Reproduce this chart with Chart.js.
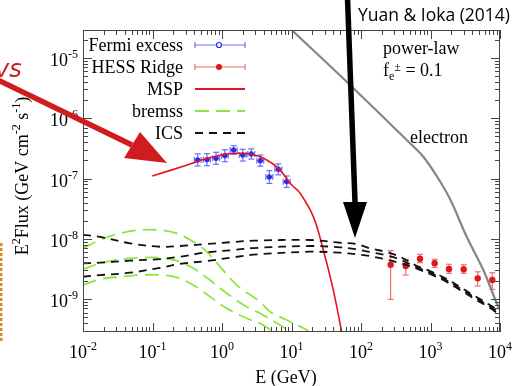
<!DOCTYPE html>
<html>
<head>
<meta charset="utf-8">
<script src="https://cdn.jsdelivr.net/npm/chart.js@4"></script>
<style>
  html, body { margin: 0; background: #fff; }
</style>
</head>
<body>
<canvas id="chart" width="514" height="386"></canvas>
<script>
// Fermi excess (GeV, GeV cm^-2 s^-1)
const fermiE   = [0.447, 0.608, 0.820, 1.10, 1.47, 1.99, 2.64, 3.56, 4.80, 6.46, 8.53];
const fermiELo = [0.40, 0.54, 0.73, 0.98, 1.31, 1.77, 2.35, 3.17, 4.28, 5.76, 7.60];
const fermiEHi = [0.50, 0.68, 0.92, 1.23, 1.65, 2.23, 2.96, 3.99, 5.38, 7.25, 9.57];
const fermiF   = [2.03e-7, 2.05e-7, 2.16e-7, 2.39e-7, 2.97e-7, 2.45e-7, 2.55e-7, 1.97e-7, 1.06e-7, 1.42e-7, 8.85e-8];
const fermiFLo = [1.61e-7, 1.63e-7, 1.72e-7, 1.90e-7, 2.52e-7, 1.95e-7, 2.10e-7, 1.60e-7, 8.3e-8, 1.15e-7, 7.1e-8];
const fermiFHi = [2.56e-7, 2.58e-7, 2.72e-7, 3.00e-7, 3.50e-7, 3.05e-7, 3.10e-7, 2.45e-7, 1.35e-7, 1.75e-7, 1.10e-7];

// HESS ridge
const hessE   = [267, 440, 706, 1148, 1845, 3003, 4776, 7745];
const hessF   = [3.72e-9, 3.54e-9, 4.68e-9, 3.93e-9, 3.16e-9, 3.12e-9, 2.21e-9, 2.07e-9];
const hessFLo = [9.9e-10, 2.51e-9, 4.02e-9, 3.36e-9, 2.68e-9, 2.68e-9, 1.65e-9, 1.45e-9];
const hessFHi = [6.37e-9, 4.57e-9, 5.53e-9, 4.57e-9, 3.78e-9, 3.72e-9, 2.84e-9, 2.74e-9];

// MSP model
const mspE = [0.0993, 0.294, 0.569, 1.10, 1.72, 2.67, 4.16, 6.46, 10.1, 13.3, 20.6, 28.7, 39.9, 52.7];
const mspF = [1.10e-7, 1.63e-7, 2.10e-7, 2.52e-7, 2.62e-7, 2.52e-7, 2.10e-7, 1.47e-7, 7.8e-8, 5.69e-8, 2.33e-8, 6.52e-9, 1.42e-9, 2.88e-10];

// bremsstrahlung, three curves
const brHiE  = [0.01, 0.0176, 0.034, 0.066, 0.128, 0.223, 0.386, 0.602, 0.936, 1.63, 3.52, 4.91, 8.53, 16.6, 18];
const brHiF  = [6.95e-9, 9.55e-9, 1.23e-8, 1.40e-8, 1.40e-8, 1.23e-8, 8.95e-9, 6.11e-9, 3.45e-9, 1.71e-9, 9.06e-10, 6.18e-10, 4.5e-10, 3.07e-10, 2.8e-10];
const brMidE = [0.01, 0.0176, 0.034, 0.066, 0.128, 0.223, 0.386, 0.670, 1.17, 2.25, 3.52, 9.5];
const brMidF = [3.12e-9, 3.93e-9, 4.57e-9, 4.86e-9, 4.86e-9, 4.34e-9, 3.24e-9, 2.07e-9, 1.25e-9, 7.48e-10, 5.82e-10, 2.96e-10];
const brLoE  = [0.01, 0.0176, 0.034, 0.066, 0.128, 0.223, 0.386, 0.670, 1.17, 2.25, 3.52, 5.24];
const brLoF  = [1.71e-9, 2.13e-9, 2.35e-9, 2.51e-9, 2.51e-9, 2.30e-9, 1.71e-9, 1.10e-9, 7.03e-10, 4.81e-10, 3.97e-10, 2.96e-10];

// inverse Compton, three curves on one energy grid
const icsE   = [0.01, 0.0176, 0.0474, 0.128, 0.248, 0.605, 1.45, 2.82, 18.4, 49.9, 86.7, 134.6, 221, 364, 598, 984, 1618, 2656, 4365, 7178, 9057];
const icsHi  = [1.16e-8, 1.08e-8, 8.41e-9, 7.39e-9, 7.60e-9, 8.20e-9, 8.85e-9, 9.31e-9, 9.55e-9, 8.61e-9, 8.20e-9, 6.95e-9, 6.11e-9, 5.05e-9, 3.68e-9, 2.92e-9, 2.24e-9, 1.59e-9, 1.12e-9, 7.98e-10, 6.85e-10];
const icsMid = [3.93e-9, 4.02e-9, 4.34e-9, 4.62e-9, 5.05e-9, 5.97e-9, 6.52e-9, 7.03e-9, 7.60e-9, 7.23e-9, 6.70e-9, 6.04e-9, 5.38e-9, 4.54e-9, 3.47e-9, 2.76e-9, 2.11e-9, 1.50e-9, 1.06e-9, 7.54e-10, 6.35e-10];
const icsLo  = [2.35e-9, 2.50e-9, 2.74e-9, 3.30e-9, 3.85e-9, 4.29e-9, 4.93e-9, 5.45e-9, 6.11e-9, 5.88e-9, 5.53e-9, 5.19e-9, 4.57e-9, 3.97e-9, 3.28e-9, 2.61e-9, 2.00e-9, 1.42e-9, 1.00e-9, 7.12e-10, 5.87e-10];

// electron power-law
const elecE = [10.07, 69.5, 455, 787, 1227, 1909, 3319, 5754, 8974, 10000];
const elecF = [2.9e-5, 3.56e-6, 4.35e-7, 2.30e-7, 1.10e-7, 4.57e-8, 1.08e-8, 3.04e-9, 8.51e-10, 6.59e-10];

const xExps = [-2, -1, 0, 1, 2, 3, 4];
const yExps = [-9, -8, -7, -6, -5];

const SERIF = '"Liberation Serif", "DejaVu Serif", serif';
const colors = {
  fermi: '#2b2bf0', fermiBar: '#6e6ef5',
  hess: '#e01818', hessBar: '#ee7070',
  msp: '#e8141c', bremss: '#8ee53f', ics: '#111111', elec: '#858585',
  frame: '#444444'
};

const toPts = (xs, ys) => xs.map((x, i) => ({ x: x, y: ys[i] }));

function line(ctx, x1, y1, x2, y2) {
  ctx.beginPath();
  ctx.moveTo(x1, y1);
  ctx.lineTo(x2, y2);
  ctx.stroke();
}

// parts: [text, size, dy]
function richText(ctx, parts, x, y, align) {
  let w = 0;
  parts.forEach(p => { ctx.font = p[1] + 'px ' + SERIF; w += ctx.measureText(p[0]).width; });
  let cx = align === 'right' ? x - w : align === 'center' ? x - w / 2 : x;
  ctx.textAlign = 'left';
  ctx.textBaseline = 'alphabetic';
  parts.forEach(p => {
    ctx.font = p[1] + 'px ' + SERIF;
    ctx.fillText(p[0], cx, y + p[2]);
    cx += ctx.measureText(p[0]).width;
  });
  return w;
}

function errorBars(ctx, xs, ys, E, F, lo, hi, eLo, eHi, color) {
  ctx.save();
  ctx.strokeStyle = color;
  ctx.lineWidth = 1.2;
  E.forEach((e, i) => {
    const px = xs.getPixelForValue(e);
    const y1 = ys.getPixelForValue(lo[i]), y2 = ys.getPixelForValue(hi[i]);
    line(ctx, px, y1, px, y2);
    line(ctx, px - 3, y1, px + 3, y1);
    line(ctx, px - 3, y2, px + 3, y2);
    if (eLo) {
      const py = ys.getPixelForValue(F[i]);
      const x1 = xs.getPixelForValue(eLo[i]), x2 = xs.getPixelForValue(eHi[i]);
      line(ctx, x1, py, x2, py);
      line(ctx, x1, py - 3, x1, py + 3);
      line(ctx, x2, py - 3, x2, py + 3);
    }
  });
  ctx.restore();
}

function arrow(ctx, x0, y0, tip, base1, base2, width, color) {
  ctx.save();
  ctx.strokeStyle = color;
  ctx.fillStyle = color;
  ctx.lineWidth = width;
  const bx = (base1[0] + base2[0]) / 2, by = (base1[1] + base2[1]) / 2;
  line(ctx, x0, y0, bx, by);
  ctx.beginPath();
  ctx.moveTo(tip[0], tip[1]);
  ctx.lineTo(base1[0], base1[1]);
  ctx.lineTo(base2[0], base2[1]);
  ctx.closePath();
  ctx.fill();
  ctx.restore();
}

const decor = {
  id: 'decor',
  beforeDatasetsDraw(chart) {
    const { ctx, scales: { x, y } } = chart;
    errorBars(ctx, x, y, fermiE, fermiF, fermiFLo, fermiFHi, fermiELo, fermiEHi, colors.fermiBar);
    errorBars(ctx, x, y, hessE, hessF, hessFLo, hessFHi, null, null, colors.hessBar);
  },
  afterDraw(chart) {
    const { ctx, chartArea: a, scales: { x, y } } = chart;
    ctx.save();

    // frame and mirrored ticks
    ctx.strokeStyle = colors.frame;
    ctx.lineWidth = 1;
    ctx.strokeRect(a.left + 0.5, a.top + 0.5, a.right - a.left - 1, a.bottom - a.top - 1);
    for (let p = -2; p <= 4; p++) {
      for (let m = 1; m <= 9; m++) {
        const v = m * Math.pow(10, p);
        if (v < x.min || v > x.max) continue;
        const px = Math.round(x.getPixelForValue(v)) + 0.5;
        const len = m === 1 ? 9 : 5;
        line(ctx, px, a.bottom, px, a.bottom - len);
        line(ctx, px, a.top, px, a.top + len);
      }
    }
    for (let p = -10; p <= -5; p++) {
      for (let m = 1; m <= 9; m++) {
        const v = m * Math.pow(10, p);
        if (v < y.min || v > y.max) continue;
        const py = Math.round(y.getPixelForValue(v)) + 0.5;
        const len = m === 1 ? 9 : 5;
        line(ctx, a.left, py, a.left + len, py);
        line(ctx, a.right, py, a.right - len, py);
      }
    }

    // tick labels
    ctx.fillStyle = '#000';
    xExps.forEach(e => {
      const px = x.getPixelForValue(Math.pow(10, e));
      richText(ctx, [['10', 18, 0], [String(e), 12, -8]], px, 358, 'center');
    });
    yExps.forEach(e => {
      const py = y.getPixelForValue(Math.pow(10, e));
      richText(ctx, [['10', 18, 0], [String(e), 12, -8]], 78, py + 8, 'right');
    });

    // axis titles
    richText(ctx, [['E (GeV)', 18, 0]], 286, 383, 'center');
    ctx.save();
    ctx.translate(28, 176);
    ctx.rotate(-Math.PI / 2);
    richText(ctx, [['E', 18, 0], ['2', 12, -8], ['Flux (GeV cm', 18, 0], ['-2', 12, -8],
      [' s', 18, 0], ['-1', 12, -8], [')', 18, 0]], 0, 0, 'center');
    ctx.restore();

    // legend
    const lx1 = 195, lx2 = 245, tx = 183;
    const rows = [45, 67, 89, 111, 133];
    ['Fermi excess', 'HESS Ridge', 'MSP', 'bremss', 'ICS'].forEach((t, i) => {
      richText(ctx, [[t, 18, 0]], tx, rows[i] + 6, 'right');
    });
    ctx.lineWidth = 1.2;
    ctx.strokeStyle = colors.fermiBar;
    line(ctx, lx1, rows[0], lx2, rows[0]);
    line(ctx, lx1, rows[0] - 3, lx1, rows[0] + 3);
    line(ctx, lx2, rows[0] - 3, lx2, rows[0] + 3);
    ctx.strokeStyle = colors.fermi;
    ctx.fillStyle = '#fff';
    ctx.beginPath(); ctx.arc(219, rows[0], 2.5, 0, Math.PI * 2); ctx.fill(); ctx.stroke();
    ctx.strokeStyle = colors.hessBar;
    line(ctx, lx1, rows[1], lx2, rows[1]);
    line(ctx, lx1, rows[1] - 3, lx1, rows[1] + 3);
    line(ctx, lx2, rows[1] - 3, lx2, rows[1] + 3);
    ctx.fillStyle = colors.hess;
    ctx.beginPath(); ctx.arc(219, rows[1], 3, 0, Math.PI * 2); ctx.fill();
    ctx.lineWidth = 1.8;
    ctx.strokeStyle = colors.msp;
    line(ctx, lx1, rows[2], lx2, rows[2]);
    ctx.strokeStyle = colors.bremss;
    ctx.setLineDash([14, 7]);
    line(ctx, lx1, rows[3], lx2, rows[3]);
    ctx.strokeStyle = colors.ics;
    ctx.setLineDash([8, 6]);
    line(ctx, lx1, rows[4], lx2, rows[4]);
    ctx.setLineDash([]);

    // text notes inside the plot
    ctx.fillStyle = '#000';
    richText(ctx, [['power-law', 18, 0]], 383, 54, 'left');
    richText(ctx, [['f', 18, 0], ['e', 12, 4], ['\u00b1', 12, -5], [' = 0.1', 18, 0]], 383, 76, 'left');
    richText(ctx, [['electron', 18, 0]], 410, 143, 'left');

    // overlay annotations
    ctx.font = '17.5px "Open Sans", "DejaVu Sans", sans-serif';
    ctx.textAlign = 'right';
    ctx.fillStyle = '#000';
    ctx.fillText('Yuan & Ioka (2014)', 510, 21);

    arrow(ctx, 347.5, -2, [355, 238], [343, 202], [367, 202], 5.5, '#000');
    arrow(ctx, -2, 80, [167, 163], [124, 158], [140, 132], 5.5, '#d01c1f');

    ctx.font = 'italic 24px "DejaVu Sans", sans-serif';
    ctx.fillStyle = '#d01c1f';
    ctx.textAlign = 'left';
    ctx.fillText('vs', -5, 77);

    ctx.strokeStyle = '#d9882b';
    ctx.lineWidth = 3;
    ctx.setLineDash([3, 2]);
    line(ctx, 1, 243, 1, 343);
    ctx.setLineDash([]);

    ctx.restore();
  }
};

const curve = (data, color, width, dash) => ({
  data: data, showLine: true, borderColor: color, borderWidth: width,
  borderDash: dash || [], pointRadius: 0, tension: 0.35, fill: false
});

new Chart(document.getElementById('chart'), {
  type: 'scatter',
  data: {
    datasets: [
      curve(toPts(icsE, icsHi), colors.ics, 1.8, [8, 6]),
      curve(toPts(icsE, icsMid), colors.ics, 1.8, [8, 6]),
      curve(toPts(icsE, icsLo), colors.ics, 1.8, [8, 6]),
      curve(toPts(brHiE, brHiF), colors.bremss, 1.8, [14, 7]),
      curve(toPts(brMidE, brMidF), colors.bremss, 1.8, [14, 7]),
      curve(toPts(brLoE, brLoF), colors.bremss, 1.8, [14, 7]),
      curve(toPts(elecE, elecF), colors.elec, 2.2),
      curve(toPts(mspE, mspF), colors.msp, 1.6),
      {
        data: toPts(fermiE, fermiF), pointRadius: 2.3,
        pointBackgroundColor: colors.fermi, pointBorderColor: colors.fermi, pointBorderWidth: 1
      },
      {
        data: toPts(hessE, hessF), pointRadius: 3.2,
        pointBackgroundColor: colors.hess, pointBorderColor: colors.hess, pointBorderWidth: 0
      }
    ]
  },
  options: {
    responsive: false,
    animation: false,
    layout: { padding: { left: 83, right: 14, top: 30, bottom: 54 } },
    plugins: { legend: { display: false }, tooltip: { enabled: false } },
    scales: {
      x: {
        type: 'logarithmic', min: 0.01, max: 1e4,
        ticks: { display: false }, grid: { display: false }, border: { display: false },
        afterFit: s => { s.height = 0; }
      },
      y: {
        type: 'logarithmic', min: 2.85e-10, max: 2.9e-5,
        ticks: { display: false }, grid: { display: false }, border: { display: false },
        afterFit: s => { s.width = 0; }
      }
    }
  },
  plugins: [decor]
});
</script>
</body>
</html>
